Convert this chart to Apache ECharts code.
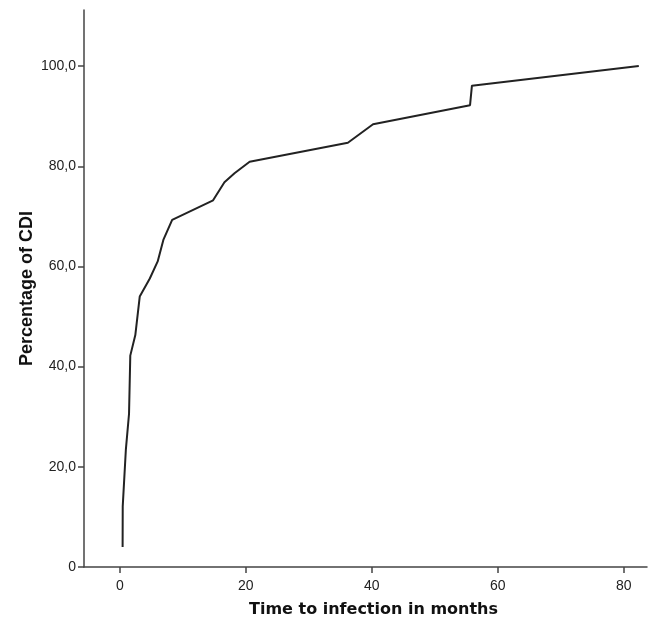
<!DOCTYPE html>
<html>
<head>
<meta charset="utf-8">
<script src="https://cdn.jsdelivr.net/npm/echarts@6/dist/echarts.min.js"></script>
<style>html,body{margin:0;padding:0;background:#fff}#c{width:648px;height:620px}</style>
</head>
<body>
<div id="c"></div>
<script>
var months = [0.43, 0.45, 0.95, 1.45, 1.65, 2.45, 3.15, 4.75, 6.0, 6.9, 8.3, 14.8, 16.6, 18.2, 20.6, 36.2, 40.2, 55.6, 55.9, 82.4];
var percentCDI = [4.0, 12.1, 23.5, 30.6, 42.2, 46.3, 54.0, 57.6, 61.0, 65.3, 69.3, 73.2, 76.8, 78.6, 80.9, 84.7, 88.4, 92.2, 96.1, 100.0];
var xTicks = [0, 20, 40, 60, 80];
var yTicks = [0, 20, 40, 60, 80, 100];
var xTitle = 'Time to infection in months';
var yTitle = 'Percentage of CDI';

var chart = echarts.init(document.getElementById('c'), null, {renderer: 'canvas'});
var axisCol = '#444';
chart.setOption({
  animation: false,
  backgroundColor: '#fff',
  grid: {left: 84, right: 1, top: 10, bottom: 53, containLabel: false, outerBoundsMode: 'none'},
  xAxis: {
    type: 'value', min: -5.7, max: 83.7,
    name: xTitle, nameLocation: 'middle', nameGap: 35, nameMoveOverlap: false,
    nameTextStyle: {fontFamily: 'DejaVu Sans', fontWeight: 'bold', fontSize: 16, color: '#111', padding: [0, 0, 0, 16]},
    axisLine: {show: true, onZero: false, lineStyle: {color: axisCol, width: 1.5}},
    axisTick: {show: true, length: 6, customValues: xTicks, lineStyle: {color: axisCol, width: 1.5}},
    axisLabel: {customValues: xTicks, fontFamily: 'Liberation Sans', fontSize: 14, color: '#222', margin: 12},
    splitLine: {show: false}
  },
  yAxis: {
    type: 'value', min: 0, max: 111.2,
    name: yTitle, nameLocation: 'middle', nameGap: 48, nameRotate: 90, nameMoveOverlap: false,
    nameTextStyle: {fontFamily: 'Liberation Sans', fontWeight: 'bold', fontSize: 18, color: '#111'},
    axisLine: {show: true, onZero: false, lineStyle: {color: axisCol, width: 1.5}},
    axisTick: {show: true, length: 6, customValues: yTicks, lineStyle: {color: axisCol, width: 1.5}},
    axisLabel: {customValues: yTicks, fontFamily: 'Liberation Sans', fontSize: 14, color: '#222', margin: 8,
      formatter: function (v) { return v === 0 ? '0' : v.toFixed(1).replace('.', ','); }},
    splitLine: {show: false}
  },
  series: [{
    type: 'line',
    data: months.map(function (m, i) { return [m, percentCDI[i]]; }),
    showSymbol: false,
    lineStyle: {color: '#222', width: 2},
    smooth: false
  }]
});
</script>
</body>
</html>
